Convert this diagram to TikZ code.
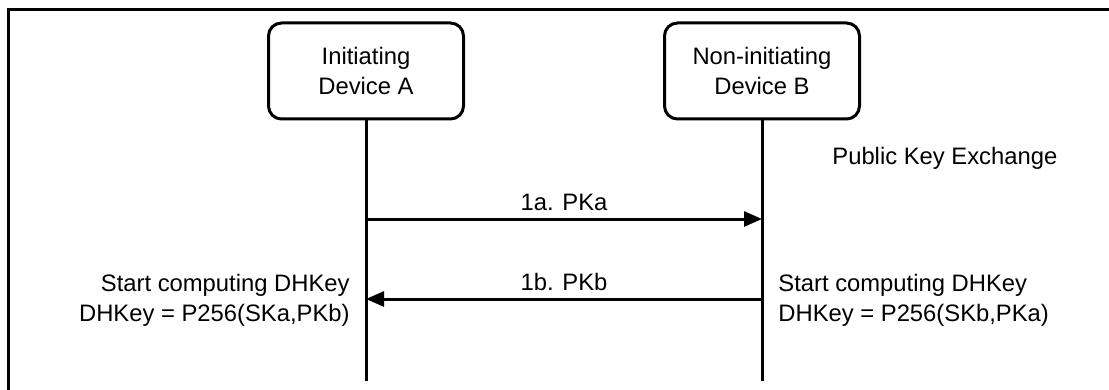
\documentclass[tikz,border=0pt]{standalone}
\usepackage{fontspec}
\setmainfont{Liberation Sans}
\usetikzlibrary{arrows.meta}
\begin{document}
\begin{tikzpicture}[x=0.5pt,y=-0.5pt,
  every node/.style={font=\fontsize{11.9}{15}\selectfont, inner sep=3.33pt},
  device/.style={draw, line width=1.5pt, rounded corners=6.5pt, minimum width=97.5pt, minimum height=48pt, align=center},
  life/.style={line width=1.5pt},
  msg/.style={line width=1.5pt, -{Triangle[length=9pt,width=7.5pt]}},
  frameline/.style={line width=1.5pt}]
\useasboundingbox (0,0) rectangle (1109,390);
\draw[frameline] (8,390) -- (8,10) -- (1109,10);
\node[device] (A) at (366,71) {Initiating\\Device A};
\node[device] (B) at (762,71) {Non-initiating\\Device B};
\coordinate (Aend) at (366,381);
\coordinate (Bend) at (762,381);
\draw[life] (A.south) -- (Aend);
\draw[life] (B.south) -- (Bend);
\coordinate (a1) at (366,219);
\coordinate (b1) at (762,219);
\coordinate (a2) at (366,299);
\coordinate (b2) at (762,299);
\draw[msg] (a1) -- node[midway, above] (m1) {1a. PKa} (b1);
\draw[msg] (b2) -- node[midway, above] (m2) {1b. PKb} (a2);
\node[anchor=base west, inner sep=0pt] (pke) at (832,165) {Public Key Exchange};
\node[anchor=east, align=right, inner sep=0pt] (la) at (350,300) {Start computing DHKey\\DHKey = P256(SKa,PKb)};
\node[anchor=west, align=left, inner sep=0pt] (lb) at (778,300) {Start computing DHKey\\DHKey = P256(SKb,PKa)};
\end{tikzpicture}
\end{document}
